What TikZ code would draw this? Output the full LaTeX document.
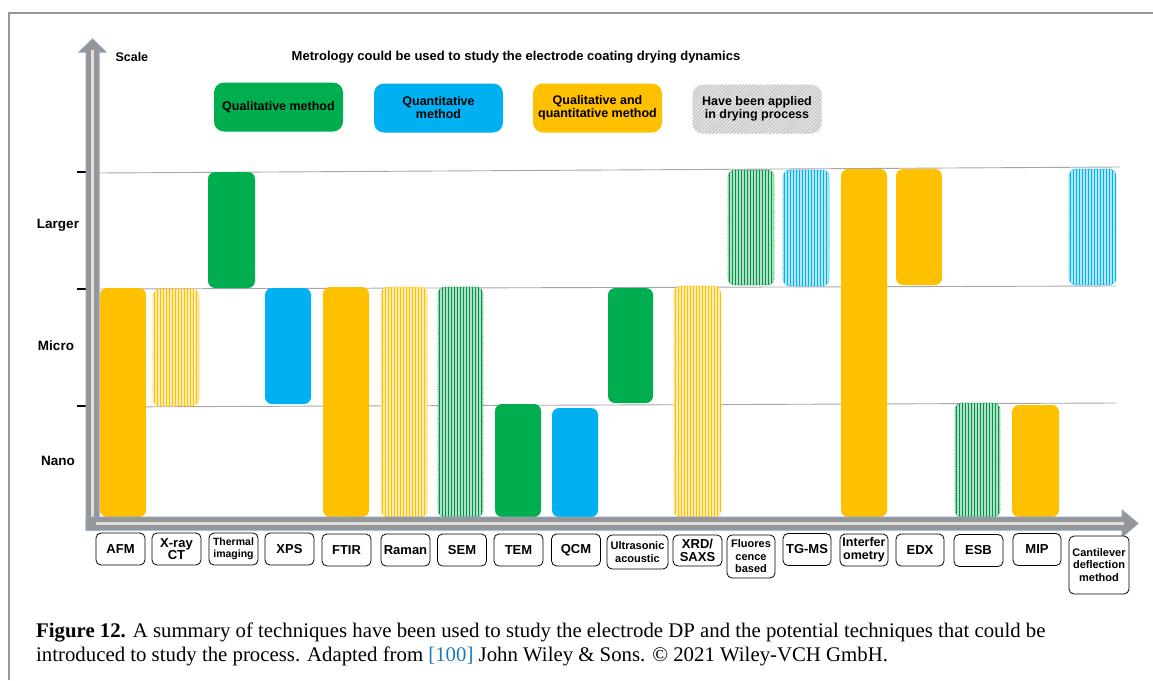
\documentclass[tikz,border=0pt]{standalone}
\usepackage{fontspec}
\setmainfont{Liberation Serif}
\setsansfont{Liberation Sans}
\usetikzlibrary{patterns.meta}

\definecolor{qualgreen}{RGB}{0,174,80}
\definecolor{quantblue}{RGB}{0,176,240}
\definecolor{bothorange}{RGB}{255,192,0}
\definecolor{axisedge}{RGB}{140,165,195}
\definecolor{axisgray}{RGB}{150,150,150}
\definecolor{citeblue}{RGB}{30,120,190}
\definecolor{framegray}{RGB}{150,150,150}

\tikzset{
  bar/.style={rounded corners=7pt},
  qualbar/.style={bar, fill=qualgreen},
  quantbar/.style={bar, fill=quantblue},
  bothbar/.style={bar, fill=bothorange},
  tech/.style={draw, rounded corners=5pt, line width=0.8pt, fill=white, minimum width=49pt,
    minimum height=32pt, inner sep=0.5pt, align=center,
    font=\sffamily\bfseries\fontsize{13}{12.5}\selectfont},
  techsmall/.style={tech, font=\sffamily\bfseries\fontsize{11}{12.5}\selectfont},
  legend/.style={rounded corners=10pt, minimum width=129pt, minimum height=49pt, align=center,
    inner sep=1pt, font=\sffamily\bfseries\fontsize{12.5}{13}\selectfont},
  level/.style={font=\sffamily\bfseries\fontsize{13.5}{13.5}\selectfont},
  gridline/.style={draw=gray!70, line width=0.9pt},
}

\begin{document}
\begin{tikzpicture}[x=1pt, y=-1pt]
  \useasboundingbox (0,0) rectangle (1153,680);
  \draw[framegray, line width=1.2pt] (9,680) -- (9,13) -- (1153,13);

  % scale levels
  \draw[gridline] (100,173) -- (1120,167);
  \draw[gridline] (100,289) -- (1116,286);
  \draw[gridline] (100,407) -- (1116,403);
  \foreach \y in {172,289,406}
    \draw[line width=2pt] (77,\y) -- (87,\y);
  \node[level] (larger) at (58,225) {Larger};
  \node[level] (micro)  at (56,346) {Micro};
  \node[level] (nano)   at (58,461) {Nano};

  % solid bars: left/right/top/bottom/kind
  \def\bars{100/146/288/517/bothbar, 208/255/172/288/qualbar, 265/311/288/404/quantbar,
    323/369/287/517/bothbar, 495/541/404/517/qualbar, 552/598/408/517/quantbar,
    608/653/288/403/qualbar, 841/887/169/517/bothbar, 896/942/169/285/bothbar,
    1012/1059/405/517/bothbar}
  \foreach \xl/\xr/\yt/\yb/\kind in \bars
  {  \path[\kind] (\xl,\yt) rectangle (\xr,\yb);
  }
  % hatched bars (applied in drying process)
  \def\hatchbars{153/199/289/406/bothorange, 381/427/287/517/bothorange,
    438/483/287/517/qualgreen!85!black, 674/721/286/517/bothorange,
    728/774/170/285/qualgreen!85!black, 783/829/170/286/quantblue,
    955/1000/403/517/qualgreen!85!black, 1069/1116/169/285/quantblue}
  \foreach \xl/\xr/\yt/\yb/\col in \hatchbars
  {  \begin{scope}
       \clip[bar] (\xl,\yt) rectangle (\xr,\yb);
       \fill[\col!30] (\xl,\yt) rectangle (\xr,\yb);
       \foreach \i in {0,...,16}
         \draw[\col, line width=1.1pt] (\xl+1.5+3*\i,\yt) -- (\xl+1.5+3*\i,\yb);
     \end{scope}
     \draw[bar, \col, densely dotted, line width=0.7pt] (\xl,\yt) rectangle (\xr,\yb);
  }

  % axes
  \filldraw[fill=axisgray, draw=axisedge, line width=1pt] (86,530) -- (86,52) -- (79,52) -- (92.5,39)
    -- (106,52) -- (99,52) -- (99,530) -- cycle;
  \draw[gray!25, line width=2.5pt] (92.5,527) -- (92.5,50);
  \filldraw[fill=axisgray, draw=axisedge, line width=1pt] (86,517) -- (1122,517) -- (1122,510)
    -- (1138,523.5) -- (1122,537) -- (1122,530) -- (86,530) -- cycle;
  \draw[gray!25, line width=2.5pt] (96,523.5) -- (1124,523.5);

  \node[level, anchor=west, font=\sffamily\bfseries\fontsize{12.5}{12.5}\selectfont] (scale) at (112,57) {Scale};
  \node[level, font=\sffamily\bfseries\fontsize{13}{13}\selectfont] (title) at (516,57)
    {Metrology could be used to study the electrode coating drying dynamics};

  % legend
  \node[legend, fill=qualgreen] (legqual) at (278.5,107) {Qualitative method};
  \node[legend, fill=quantblue] (legquant) at (438.5,108) {Quantitative\\method};
  \node[legend, fill=bothorange] (legboth) at (597.5,108) {Qualitative and\\quantitative method};
  \node[legend, preaction={fill=gray!22}, pattern={Lines[angle=45,distance=2.5pt,line width=0.6pt]},
    pattern color=gray!55] (legapplied) at (757,109) {Have been applied\\in drying process};

  % techniques
  \node[tech] (afm)      at (120.5,549) {AFM};
  \node[tech] (xct)      at (176.5,549) {X-ray\\CT};
  \node[techsmall, font=\sffamily\bfseries\fontsize{10.5}{12}\selectfont] (thermal) at (233.5,549) {Thermal\\imaging};
  \node[tech] (xps)      at (289.5,549) {XPS};
  \node[tech] (ftir)     at (346.5,550) {FTIR};
  \node[tech] (raman)    at (405.5,550) {Raman};
  \node[tech] (sem)      at (462,550)   {SEM};
  \node[tech] (tem)      at (518.5,550) {TEM};
  \node[tech] (qcm)      at (576,550)   {QCM};
  \node[techsmall, minimum width=61pt, minimum height=34pt] (ultra) at (637.5,552) {Ultrasonic\\acoustic};
  \node[tech, minimum height=31pt] (xrd) at (697.5,550.5) {XRD/\\SAXS};
  \node[techsmall, minimum width=48pt, minimum height=43pt] (fluor) at (751,556.5) {Fluores\\cence\\based};
  \node[tech, minimum width=48pt] (tgms) at (807,549.5) {TG-MS};
  \node[tech, minimum width=48pt, font=\sffamily\bfseries\fontsize{12.5}{12.5}\selectfont] (interf) at (864,550) {Interfer\\ometry};
  \node[tech, minimum width=48pt] (edx)  at (920,550)   {EDX};
  \node[tech] (esb)      at (978.5,550.5) {ESB};
  \node[tech, minimum width=48pt] (mip)  at (1037,549.5) {MIP};
  \node[techsmall, minimum width=60pt, minimum height=58pt] (canti) at (1099,565) {Cantilever\\deflection\\method};

  % caption (base anchor sits on the last line)
  \node[anchor=base west, align=left, inner sep=0pt, font=\fontsize{20.8}{24}\selectfont] (caption) at (36,661)
    {\textbf{Figure 12.} A summary of techniques have been used to study the electrode DP and the potential techniques that could be\\
     introduced to study the process. Adapted from {\color{citeblue}[100]} John Wiley \& Sons. © 2021 Wiley-VCH GmbH.};
\end{tikzpicture}
\end{document}
